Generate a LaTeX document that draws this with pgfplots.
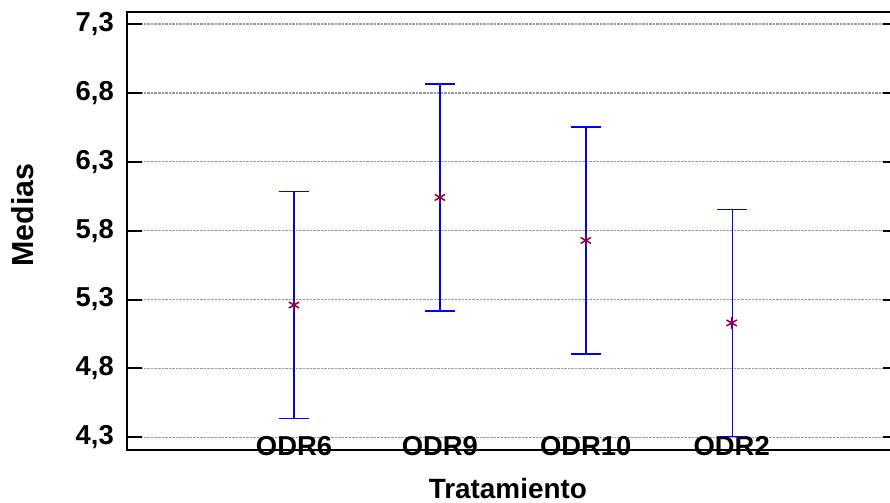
\documentclass[border=0pt]{standalone}
\usepackage{pgfplots}
\pgfplotsset{compat=1.18}
\usepackage{fontspec}
\setmainfont{Liberation Sans}
\definecolor{markc}{RGB}{140,0,70}
\definecolor{barc}{RGB}{0,0,255}
\begin{document}
\begin{tikzpicture}
\path[use as bounding box] (0bp,0bp) rectangle (890bp,503bp);
\begin{axis}[
  at={(127bp,53bp)}, anchor=south west,
  scale only axis, width=771bp, height=438bp,
  xmin=-0.1446, xmax=5.14,
  ymin=4.208, ymax=7.387,
  axis line style={line width=2bp, black},
  xtick={1,2,3,4},
  xticklabels={ODR6,ODR9,ODR10,ODR2},
  x tick style={draw=none},
  ytick={4.3,4.8,5.3,5.8,6.3,6.8,7.3},
  ytick pos=both,
  tick align=inside,
  major tick length=15bp,
  y tick style={line width=2bp, black},
  ymajorgrids,
  major grid style={gray!80, densely dotted, line width=1.4bp},
  /pgf/number format/.cd, use comma, fixed, fixed zerofill, precision=1, assume math mode=true,
  /pgfplots/.cd,
  yticklabel style={font=\fontsize{27.5}{32}\selectfont\bfseries, anchor=east, inner sep=0pt, xshift=-13bp},
  xticklabel style={font=\fontsize{27.5}{32}\selectfont\bfseries, anchor=center, inner sep=0pt, yshift=4bp},
  xlabel={Tratamiento},
  xlabel style={at={(axis description cs:0.494,-0.089)}, anchor=center, inner sep=0pt, font=\fontsize{28}{33}\selectfont\bfseries},
  ylabel={Medias},
  ylabel style={at={(axis description cs:-0.1355,0.5365)}, anchor=center, inner sep=0pt, font=\fontsize{30.5}{35}\selectfont\bfseries},
  clip=false,
]
% intervals (mean +/- 0.824)
\addplot[draw=barc, line width=1.3bp, mark=-, mark size=15bp, mark options={solid, draw=barc, line width=1.3bp}]
  coordinates {(1,4.436) (1,6.084)};
\addplot[draw=barc, line width=1.3bp, mark=-, mark size=15bp, mark options={solid, draw=barc, line width=1.3bp}]
  coordinates {(2,5.217) (2,6.865)};
\addplot[draw=barc, line width=1.3bp, mark=-, mark size=15bp, mark options={solid, draw=barc, line width=1.3bp}]
  coordinates {(3.002,4.905) (3.002,6.553)};
\addplot[draw=barc, line width=1.3bp, mark=-, mark size=15bp, mark options={solid, draw=barc, line width=1.3bp}]
  coordinates {(4.004,4.306) (4.004,5.954)};
% means
\addplot[draw=markc, only marks, mark=asterisk, mark size=6bp, mark options={line width=1.5bp, draw=markc}]
  table[x=x, y=y] {
x y
1 5.260
2 6.041
3 5.729
4 5.130
};
\end{axis}
\end{tikzpicture}
\end{document}
